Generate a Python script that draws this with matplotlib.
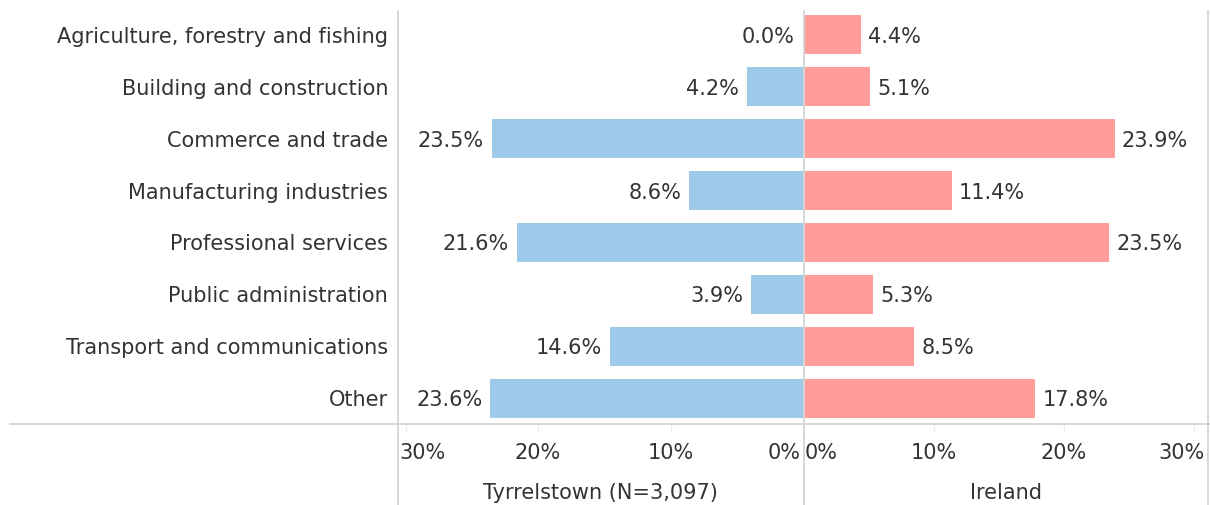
import matplotlib.pyplot as plt
from matplotlib.lines import Line2D

#-- data ----------------------------------------------------------------------
categories = ["Agriculture, forestry and fishing", "Building and construction",
              "Commerce and trade", "Manufacturing industries",
              "Professional services", "Public administration",
              "Transport and communications", "Other"]
tyrrelstown = [0.0, 4.2, 23.5, 8.6, 21.6, 3.9, 14.6, 23.6]
ireland = [4.4, 5.1, 23.9, 11.4, 23.5, 5.3, 8.5, 17.8]
ticks = [0, 10, 20, 30]
tick_labels = ["0%", "10%", "20%", "30%"]
left_title = "Tyrrelstown (N=3,097)"
right_title = "Ireland"
#------------------------------------------------------------------------------

plt.rcParams['font.family'] = ['DejaVu Sans']
W, H = 1210, 506
fs = 15
txt = '#333333'
line_c = '#d4d4d4'
blue = '#9fc9e8'
pink = '#ff9d9a'

fig = plt.figure(figsize=(W/100, H/100), dpi=100)

top, bottom = 10, 425
def px_axes(x0, x1):
    return fig.add_axes([x0/W, 1 - bottom/H, (x1-x0)/W, (bottom-top)/H])

axL = px_axes(398, 803)
axR = px_axes(804, 1208)

y = list(range(len(categories)))

axL.barh(y, tyrrelstown, height=0.75, color=blue)
axR.barh(y, ireland, height=0.75, color=pink)

axL.set_xlim(30.57, 0)
axR.set_xlim(0, 31.08)
for ax in (axL, axR):
    ax.set_ylim(len(categories) - 0.5, -0.5)
    ax.set_yticks([])
    for s in ax.spines.values():
        s.set_visible(False)
    ax.set_xticks(ticks)
    ax.set_xticklabels([])
    ax.tick_params(axis='x', length=6, color='#ececec')
    ax.patch.set_alpha(0)

#-- tick labels, the edge ones pushed inward like the original
shiftL = {0: (-2, 'right'), 30: (-6, 'left')}
shiftR = {0: (1, 'left'), 30: (11, 'right')}
for ax, shift in ((axL, shiftL), (axR, shiftR)):
    for t, lab in zip(ticks, tick_labels):
        dx, ha = shift.get(t, (0, 'center'))
        ax.annotate(lab, (t, 0), xycoords=('data', 'axes fraction'),
                    xytext=(dx, -28), textcoords='offset pixels',
                    ha=ha, va='center', fontsize=fs, color=txt)

#-- value labels
for i, v in enumerate(tyrrelstown):
    axL.annotate(f"{v:.1f}%", (v, i), xytext=(-8, -1), textcoords='offset pixels',
                 ha='right', va='center', fontsize=fs, color=txt)
for i, v in enumerate(ireland):
    axR.annotate(f"{v:.1f}%", (v, i), xytext=(7, -1), textcoords='offset pixels',
                 ha='left', va='center', fontsize=fs, color=txt)

#-- category labels
for i, c in enumerate(categories):
    axL.annotate(c, (0, i), xycoords=('axes fraction', 'data'), xytext=(-10, -1),
                 textcoords='offset pixels', ha='right', va='center',
                 fontsize=fs, color=txt)

#-- panel titles
axL.annotate(left_title, (0.5, 0), xycoords='axes fraction', xytext=(0, -68),
             textcoords='offset pixels', ha='center', va='center',
             fontsize=fs, color=txt)
axR.annotate(right_title, (0.5, 0), xycoords='axes fraction', xytext=(0, -68),
             textcoords='offset pixels', ha='center', va='center',
             fontsize=fs, color=txt)

#-- frame lines
def fig_line(xs, ys):
    fig.add_artist(Line2D([x/W for x in xs], [1 - v/H for v in ys],
                          color=line_c, lw=1.3))

fig_line([10, W], [bottom, bottom])
fig_line([398, 398], [12, H])
fig_line([803.5, 803.5], [12, H])
fig_line([1208, 1208], [12, H])

fig.savefig('out.png', dpi=100)
